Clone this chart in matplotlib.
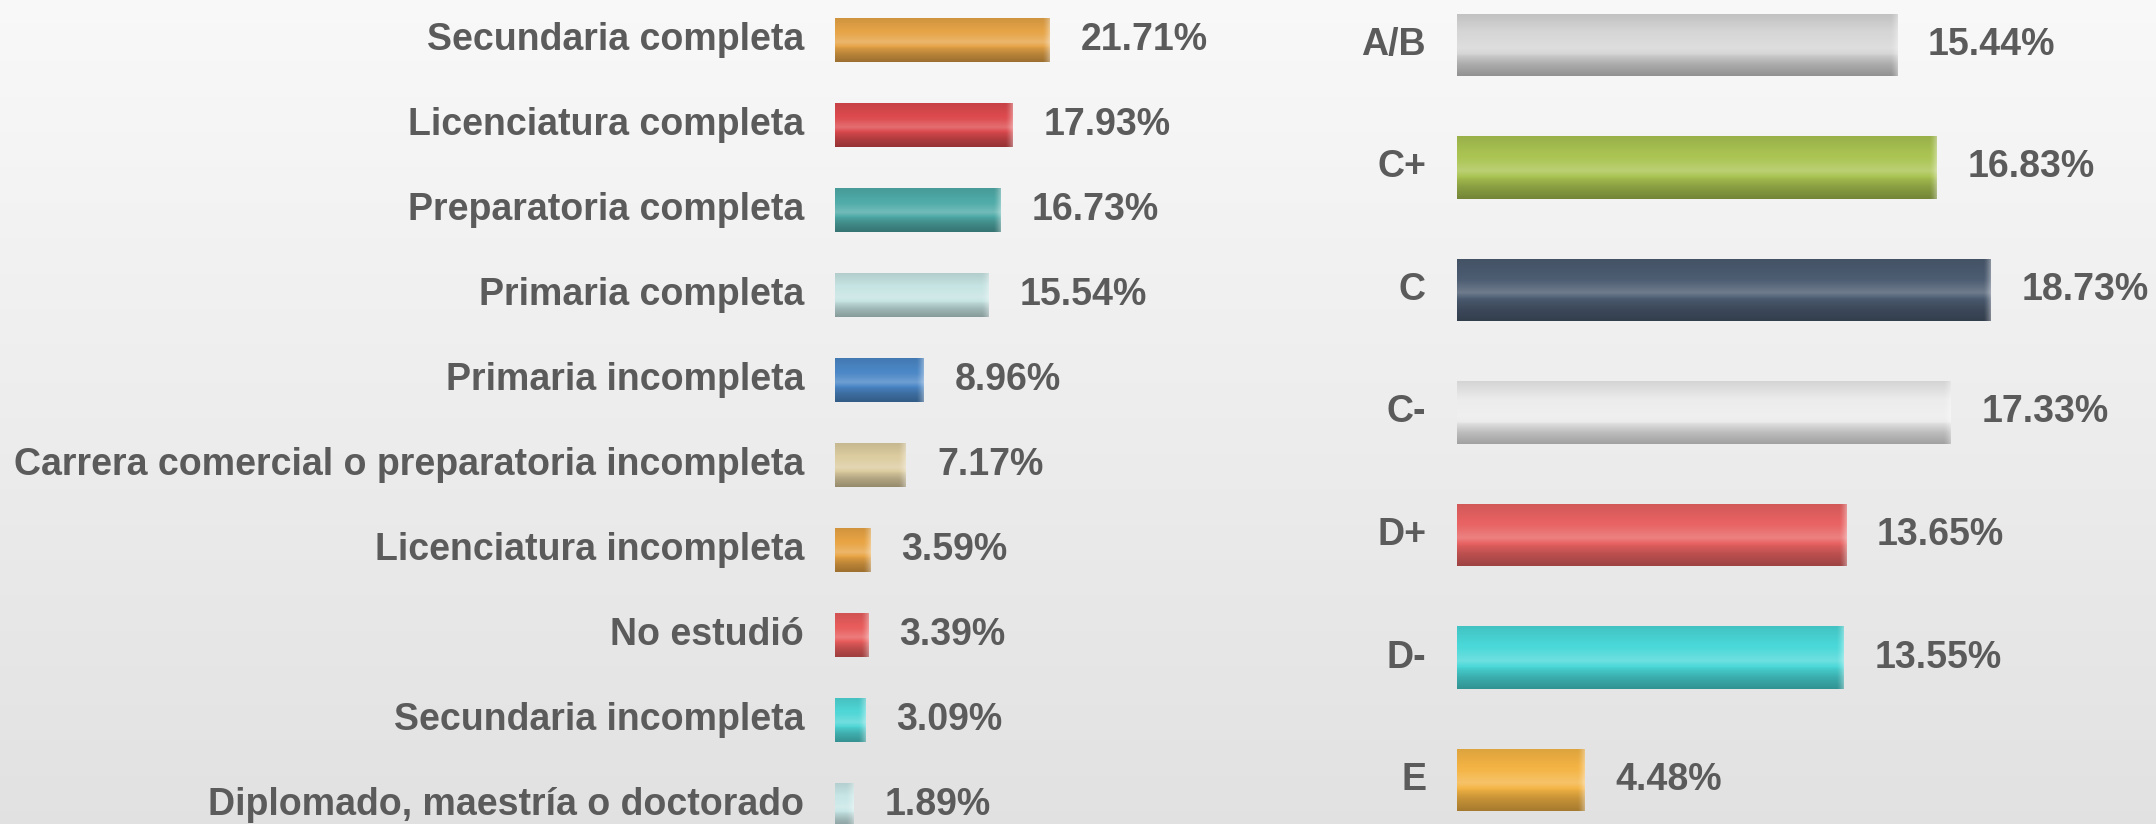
import numpy as np
import matplotlib
matplotlib.use("Agg")
import matplotlib.pyplot as plt
from matplotlib.colors import to_rgb

# ---------------- data ----------------
left_labels = ["Secundaria completa", "Licenciatura completa", "Preparatoria completa",
               "Primaria completa", "Primaria incompleta",
               "Carrera comercial o preparatoria incompleta", "Licenciatura incompleta",
               "No estudió", "Secundaria incompleta", "Diplomado, maestría o doctorado"]
left_values = [21.71, 17.93, 16.73, 15.54, 8.96, 7.17, 3.59, 3.39, 3.09, 1.89]
left_colors = ["#e6a447", "#dc4a4e", "#4fabA8", "#c6e4e3", "#4b87c6",
               "#dccca0", "#e8a444", "#e85c5c", "#4fd6d6", "#c8e6e6"]

right_labels = ["A/B", "C+", "C", "C-", "D+", "D-", "E"]
right_values = [15.44, 16.83, 18.73, 17.33, 13.65, 13.55, 4.48]
right_colors = ["#d6d6d6", "#aac452", "#4b5b70", "#ececec", "#e86262", "#4ad8d8", "#f4b444"]

TEXT_COLOR = "#5b5b5b"
FONT = "Liberation Sans"
FSIZE = 27

W, H = 2156, 824
fig = plt.figure(figsize=(W / 100, H / 100), dpi=100)

# background gradient
bg = fig.add_axes([0, 0, 1, 1])
bg.axis("off")
t = np.linspace(0, 1, 256)[:, None, None]
top = np.array([0.975, 0.975, 0.975])
bot = np.array([0.885, 0.885, 0.885])
bg.imshow(top + (bot - top) * t, aspect="auto", extent=[0, 1, 0, 1], zorder=0)
bg.set_xlim(0, 1)
bg.set_ylim(0, 1)


def shade(base, prof):
    base = np.asarray(base)
    out = np.empty(prof.shape + (3,))
    for k in range(3):
        b = base[k]
        out[..., k] = np.where(prof >= 1, b + (1 - b) * (prof - 1), b * prof)
    return np.clip(out, 0, 1)


# vertical cylinder profile (top -> bottom)
ys = np.linspace(0, 1, 120)
prof_pts_x = [0.0, 0.12, 0.35, 0.55, 0.68, 0.82, 1.0]
prof_pts_y = [0.90, 0.94, 1.02, 1.2, 0.94, 0.8, 0.68]
profile = np.interp(ys, prof_pts_x, prof_pts_y)


def make_axes(x0_px, w_px, ppu, first_c, spacing):
    ax = fig.add_axes([x0_px / W, 0, w_px / W, 1])
    ax.axis("off")
    return ax, (0, w_px / ppu), ((H - first_c) / spacing, -first_c / spacing)


def draw_panel(ax, lims, labels, values, colors, ppu, height, gap_px):
    for i, (lab, v, c) in enumerate(zip(labels, values, colors)):
        bar = ax.barh(i, v, height=height, color=c, linewidth=0, zorder=2)[0]
        base = to_rgb(c)
        ncols = max(int(v * ppu), 4)
        img = shade(base, np.repeat(profile[:, None], ncols, axis=1))
        # brighter rounded end cap
        cap = min(8, ncols)
        ramp = np.linspace(0, 1, cap) ** 1.5
        img[:, -cap:, :] = img[:, -cap:, :] + (1 - img[:, -cap:, :]) * 0.35 * ramp[None, :, None]
        im = ax.imshow(img, extent=(0, v, i + height / 2, i - height / 2),
                       aspect="auto", interpolation="bilinear", zorder=3)
        im.set_clip_path(bar)
        ax.annotate(lab, xy=(0, i), xytext=(-gap_px * 0.72, 0), textcoords="offset points",
                    ha="right", va="center", fontsize=FSIZE, fontweight="bold",
                    color=TEXT_COLOR, family=FONT, annotation_clip=False)
        ax.annotate(f"{v:.2f}%", xy=(v, i), xytext=(gap_px * 0.72, 0), textcoords="offset points",
                    ha="left", va="center", fontsize=FSIZE, fontweight="bold",
                    color=TEXT_COLOR, family=FONT, annotation_clip=False)
    ax.set_xlim(*lims[0])
    ax.set_ylim(*lims[1])


# left panel: 9.9 px per %, bars start at x=835 px, centres 40 px + 85 px steps
axL, xlL, ylL = make_axes(835, 420, 9.9, 40, 85.0)
draw_panel(axL, (xlL, ylL), left_labels, left_values, left_colors, 9.9, 0.51, 31)

# right panel: 28.5 px per %, bars start at x=1457 px, centres 45 px + 122.5 px steps
axR, xlR, ylR = make_axes(1457, 600, 28.5, 45, 122.5)
draw_panel(axR, (xlR, ylR), right_labels, right_values, right_colors, 28.5, 0.51, 31)

fig.savefig("out.png", dpi=100)
